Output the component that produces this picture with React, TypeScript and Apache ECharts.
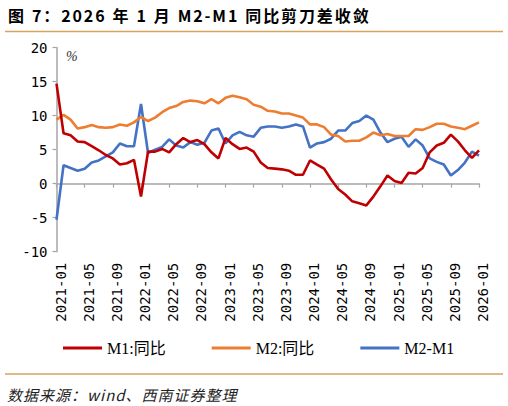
import React, { useEffect, useRef } from "react";
import * as echarts from "echarts";

const months: string[] = [];
for (let y = 2021; y <= 2026; y++) {
  for (let m = 1; m <= 12; m++) {
    if (y === 2026 && m > 1) break;
    months.push(`${y}-${m < 10 ? "0" + m : m}`);
  }
}

const m1Yoy = [
  14.7, 7.4, 7.1, 6.2, 6.1, 5.5, 4.9, 4.2, 3.7, 2.8, 3.0, 3.5,
  -1.9, 4.7, 4.7, 5.1, 4.6, 5.8, 6.7, 6.1, 6.4, 5.8, 4.6, 3.7,
  6.7, 5.8, 5.1, 5.3, 4.7, 3.1, 2.3, 2.2, 2.1, 1.9, 1.3, 1.3,
  3.4, 2.8, 2.2, 0.6, -0.8, -1.6, -2.6, -2.9, -3.2, -1.9, -0.4, 1.2,
  0.4, 0.1, 1.6, 1.5, 2.3, 4.6, 5.6, 6.0, 7.2, 6.2, 4.9, 3.8,
  4.9,
];

const m2Yoy = [
  9.4, 10.1, 9.4, 8.1, 8.3, 8.6, 8.3, 8.2, 8.3, 8.7, 8.5, 9.0,
  9.8, 9.2, 9.7, 10.5, 11.1, 11.4, 12.0, 12.2, 12.1, 11.8, 12.4, 11.8,
  12.6, 12.9, 12.7, 12.4, 11.6, 11.3, 10.7, 10.6, 10.3, 10.3, 10.0, 9.7,
  8.7, 8.7, 8.3, 7.2, 7.0, 6.2, 6.3, 6.3, 6.8, 7.5, 7.1, 7.3,
  7.0, 7.0, 7.0, 8.0, 7.9, 8.3, 8.8, 8.8, 8.4, 8.2, 8.0, 8.5,
  9.0,
];

const m2MinusM1 = [
  -5.3, 2.7, 2.3, 1.9, 2.2, 3.1, 3.4, 4.0, 4.6, 5.9, 5.5, 5.5,
  11.7, 4.5, 5.0, 5.4, 6.5, 5.6, 5.3, 6.1, 5.7, 6.0, 7.8, 8.1,
  5.9, 7.1, 7.6, 7.1, 6.9, 8.2, 8.4, 8.4, 8.2, 8.4, 8.7, 8.4,
  5.3, 5.9, 6.1, 6.6, 7.8, 7.8, 8.9, 9.2, 10.0, 9.4, 7.5, 6.1,
  6.6, 6.9, 5.4, 6.5, 5.6, 3.7, 3.2, 2.8, 1.2, 2.0, 3.1, 4.7,
  4.1,
];

const seriesNames = ["M1:同比", "M2:同比", "M2-M1"];
const seriesColors = ["#C00000", "#ED7D31", "#4472C4"];

const titleText = "图 7：2026 年 1 月 M2-M1 同比剪刀差收敛";
const sourceText = "数据来源：wind、西南证券整理";
const unitText = "%";

// Lay out a string character by character with extra letter spacing.
function spacedText(
  str: string,
  x0: number,
  yMid: number,
  spacing: number,
  spaceWidth: number,
  style: { fontFamily: string; fontSize: number; fontWeight?: string; fontStyle?: string; fill: string }
) {
  const canvas = document.createElement("canvas");
  const ctx = canvas.getContext("2d")!;
  ctx.font = `${style.fontStyle || "normal"} ${style.fontWeight || "normal"} ${style.fontSize}px ${style.fontFamily}`;
  const children: any[] = [];
  let x = x0;
  for (const ch of Array.from(str)) {
    if (ch === " ") {
      x += spaceWidth;
      continue;
    }
    children.push({
      type: "text",
      x,
      y: yMid,
      style: {
        text: ch,
        fontFamily: style.fontFamily,
        fontSize: style.fontSize,
        fontWeight: style.fontWeight || "normal",
        fontStyle: style.fontStyle || "normal",
        fill: style.fill,
        verticalAlign: "middle",
        align: "left",
      },
    });
    x += ctx.measureText(ch).width + spacing;
  }
  return { type: "group", children };
}

export default function App() {
  const ref = useRef<HTMLDivElement>(null);
  useEffect(() => {
    if (!ref.current) return;
    const chart = echarts.init(ref.current, null, { renderer: "svg" });
    const gridTop = 47.5;
    const gridH = 204.2;
    const mono = "DejaVu Sans Mono";
    const axisGray = "#A6A6A6";
    const dataList = [m1Yoy, m2Yoy, m2MinusM1];
    chart.setOption({
      animation: false,
      backgroundColor: "#fff",
      grid: [
        { left: 56.5, top: gridTop, width: 422.5, height: gridH },
        { left: 60.5, top: gridTop, width: 422.5, height: gridH },
      ],
      xAxis: [
        {
          type: "category",
          gridIndex: 0,
          data: months,
          boundaryGap: false,
          axisLine: { onZero: true, lineStyle: { color: axisGray, width: 1.5 } },
          axisTick: { show: true, interval: 3, length: 4, lineStyle: { color: axisGray, width: 1.2 } },
          axisLabel: { show: false },
          splitLine: { show: false },
        },
        {
          type: "category",
          gridIndex: 1,
          data: months,
          boundaryGap: false,
          axisLine: { show: false, onZero: false },
          axisTick: { show: false },
          axisLabel: {
            interval: 3,
            rotate: 90,
            fontFamily: mono,
            fontSize: 14,
            color: "#000",
            margin: 11,
          },
          splitLine: { show: false },
        },
      ],
      yAxis: [
        {
          type: "value",
          gridIndex: 0,
          min: -10,
          max: 20,
          interval: 5,
          axisLine: { show: true, onZero: false, lineStyle: { color: axisGray, width: 1.5 } },
          axisTick: { show: true, length: 4, lineStyle: { color: axisGray, width: 1.2 } },
          axisLabel: { fontFamily: mono, fontSize: 14, color: "#000", margin: 9 },
          splitLine: { show: false },
        },
        {
          type: "value",
          gridIndex: 1,
          min: -10,
          max: 20,
          interval: 5,
          show: false,
          splitLine: { show: false },
        },
      ],
      legend: {
        left: 58,
        top: 335,
        icon: "rect",
        itemWidth: 39,
        itemHeight: 3,
        itemGap: 46,
        data: seriesNames,
        textStyle: {
          fontFamily: "'Liberation Serif', 'Noto Sans CJK SC'",
          fontSize: 16,
          color: "#000",
        },
      },
      series: seriesNames.map((name, i) => ({
        name,
        type: "line",
        xAxisIndex: 0,
        yAxisIndex: 0,
        data: dataList[i],
        symbol: "none",
        lineStyle: { color: seriesColors[i], width: 2.6 },
        itemStyle: { color: seriesColors[i] },
        z: 3 - i,
      })),
      graphic: [
        spacedText(titleText, 8, 15, 1.9, 6, {
          fontFamily: "'Noto Sans CJK SC'",
          fontWeight: "bold",
          fontSize: 16,
          fill: "#000",
        }),
        {
          type: "line",
          shape: { x1: 5, y1: 31.5, x2: 503, y2: 31.5 },
          style: { stroke: "#D6A35E", lineWidth: 1.5 },
        },
        {
          type: "text",
          x: 66,
          y: 56,
          style: {
            text: unitText,
            fontFamily: "'Liberation Serif'",
            fontStyle: "italic",
            fontSize: 14,
            fill: "#333",
            verticalAlign: "middle",
          },
        },
        {
          type: "line",
          shape: { x1: 5, y1: 374, x2: 503, y2: 374 },
          style: { stroke: "#D6A35E", lineWidth: 1.5 },
        },
        spacedText(sourceText, 7, 394, 1, 4, {
          fontFamily: "'Noto Sans CJK SC'",
          fontStyle: "italic",
          fontSize: 15,
          fill: "#222",
        }),
      ],
    });
    return () => chart.dispose();
  }, []);
  return (
    <div
      ref={ref}
      style={{ position: "fixed", left: 0, top: 0, width: 508, height: 406 }}
    />
  );
}
